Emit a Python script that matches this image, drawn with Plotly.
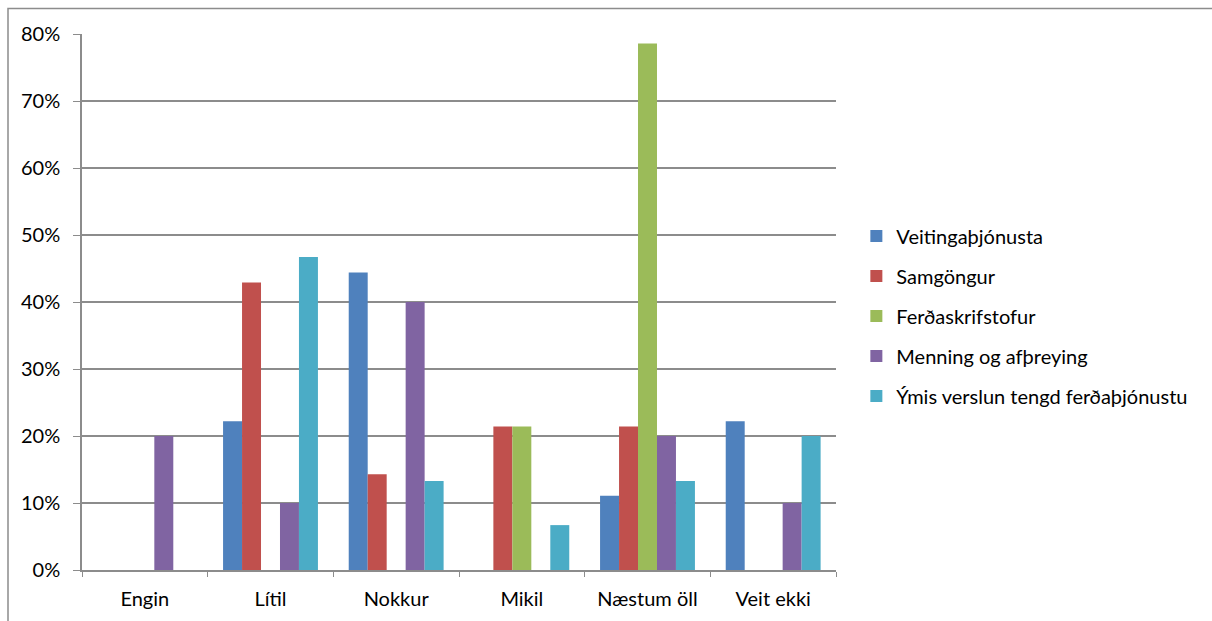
import plotly.graph_objects as go

categories = ["Engin", "Lítil", "Nokkur", "Mikil", "Næstum öll", "Veit ekki"]

veitingathjonusta = [0, 0.222, 0.444, 0, 0.111, 0.222]
samgongur = [0, 0.429, 0.143, 0.214, 0.214, 0]
ferdaskrifstofur = [0, 0, 0, 0.214, 0.786, 0]
menning = [0.20, 0.10, 0.40, 0, 0.20, 0.10]
ymis_verslun = [0, 0.467, 0.133, 0.067, 0.133, 0.20]

series = [
    ("Veitingaþjónusta", veitingathjonusta, "#4F81BD"),
    ("Samgöngur", samgongur, "#C0504D"),
    ("Ferðaskrifstofur", ferdaskrifstofur, "#9BBB59"),
    ("Menning og afþreying", menning, "#8064A2"),
    ("Ýmis verslun tengd ferðaþjónustu", ymis_verslun, "#4BACC6"),
]

FONT = "Lato"
FONT_SIZE = 20
GRID = "#8C8C8C"

fig = go.Figure()
for i, (name, vals, color) in enumerate(series):
    fig.add_trace(go.Bar(
        name=name,
        x=categories,
        y=vals,
        marker=dict(color=color, line=dict(width=0)),
        legendgroup=f"g{i}",
    ))

fig.update_layout(
    width=1212,
    height=621,
    margin=dict(l=82, r=376, t=34, b=51),
    paper_bgcolor="white",
    plot_bgcolor="white",
    barmode="group",
    bargap=0.245,
    bargroupgap=0,
    font=dict(family=FONT, size=FONT_SIZE, color="#000000"),
    showlegend=True,
    legend=dict(
        x=1.027,
        xanchor="left",
        y=0.474,
        yanchor="middle",
        font=dict(family=FONT, size=FONT_SIZE, color="#000000"),
        tracegroupgap=11,
        itemwidth=30,
        bgcolor="rgba(0,0,0,0)",
    ),
    xaxis=dict(
        type="category",
        tickson="boundaries",
        ticks="outside",
        ticklen=5,
        tickcolor=GRID,
        showline=True,
        linecolor=GRID,
        linewidth=1.5,
        showgrid=False,
        ticklabelstandoff=10,
        tickfont=dict(family=FONT, size=FONT_SIZE),
    ),
    yaxis=dict(
        range=[0, 0.8],
        dtick=0.1,
        tickformat=".0%",
        ticks="outside",
        ticklen=7,
        tickcolor=GRID,
        showline=True,
        linecolor=GRID,
        linewidth=1.5,
        showgrid=True,
        gridcolor=GRID,
        gridwidth=1.5,
        zeroline=False,
        ticklabelstandoff=9,
        tickfont=dict(family=FONT, size=FONT_SIZE),
    ),
    shapes=[
        dict(
            type="rect", xref="paper", yref="paper",
            x0=-74 / 754, x1=1.6, y0=-0.2, y1=1 + 25.5 / 536,
            line=dict(color="#8C8C8C", width=1.5),
            fillcolor="rgba(0,0,0,0)",
            layer="below",
        )
    ],
)

fig.write_html("out.html")
